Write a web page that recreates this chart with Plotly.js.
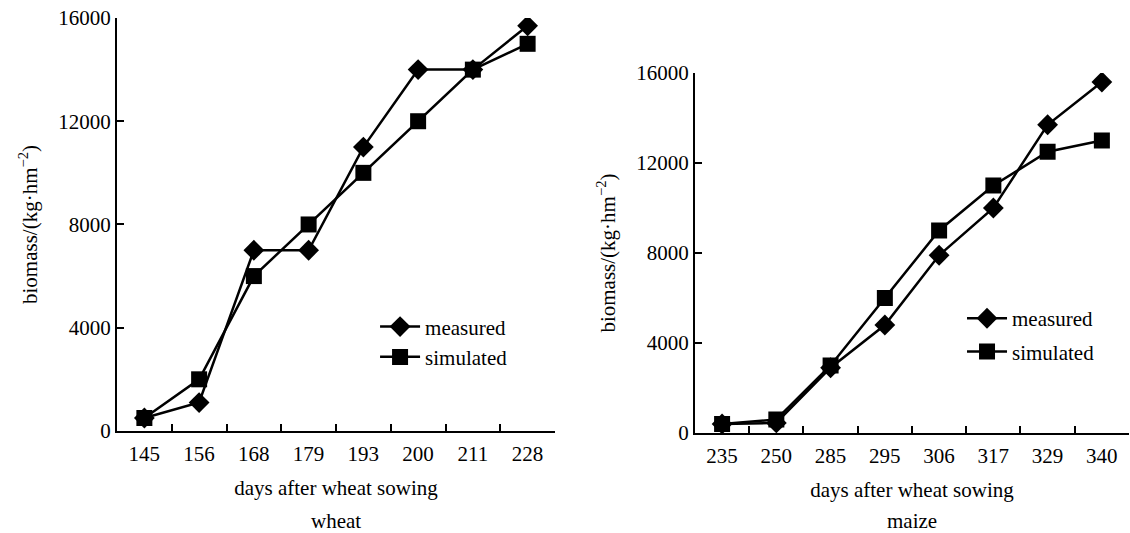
<!DOCTYPE html>
<html>
<head>
<meta charset="utf-8">
<script src="https://cdn.plot.ly/plotly-3.0.1.min.js"></script>
<style>html,body{margin:0;padding:0;background:#fff;}#chart{width:1130px;height:533px;}</style>
</head>
<body>
<div id="chart"></div>
<script>
// Wheat panel
const wheatDays = ["145", "156", "168", "179", "193", "200", "211", "228"];
const wheatMeasured = [500, 1100, 7000, 7000, 11000, 14000, 14000, 15700];
const wheatSimulated = [500, 2000, 6000, 8000, 10000, 12000, 14000, 15000];
// Maize panel
const maizeDays = ["235", "250", "285", "295", "306", "317", "329", "340"];
const maizeMeasured = [400, 450, 2900, 4800, 7900, 10000, 13700, 15600];
const maizeSimulated = [400, 600, 3000, 6000, 9000, 11000, 12500, 13000];
const yTicks = [0, 4000, 8000, 12000, 16000];

const FONT = "Liberation Serif, DejaVu Serif, serif";
const FS = 21;
const lineStyle = {color: "#000", width: 2.5};
const diamond = {symbol: "diamond", size: 16, color: "#000"};
const square = {symbol: "square", size: 16, color: "#000"};

const traces = [
  {x: wheatDays, y: wheatMeasured, name: "measured", type: "scatter", mode: "lines+markers",
   line: lineStyle, marker: diamond, xaxis: "x", yaxis: "y", legend: "legend", legendgroup: "w1"},
  {x: wheatDays, y: wheatSimulated, name: "simulated", type: "scatter", mode: "lines+markers",
   line: lineStyle, marker: square, xaxis: "x", yaxis: "y", legend: "legend", legendgroup: "w2"},
  {x: maizeDays, y: maizeMeasured, name: "measured", type: "scatter", mode: "lines+markers",
   line: lineStyle, marker: diamond, xaxis: "x2", yaxis: "y2", legend: "legend2", legendgroup: "m1"},
  {x: maizeDays, y: maizeSimulated, name: "simulated", type: "scatter", mode: "lines+markers",
   line: lineStyle, marker: square, xaxis: "x2", yaxis: "y2", legend: "legend2", legendgroup: "m2"}
];

function xAxis(domain, anchor) {
  return {
    domain: domain, anchor: anchor, type: "category",
    showline: true, linecolor: "#000", linewidth: 2,
    ticks: "inside", tickson: "boundaries", ticklen: 7, tickwidth: 2, tickcolor: "#000",
    ticklabelstandoff: 3,
    showgrid: false, zeroline: false, range: [-0.5, 7.5],
    tickfont: {family: FONT, size: FS, color: "#000"},
    title: {text: "days after wheat sowing", font: {family: FONT, size: FS, color: "#000"}, standoff: 15},
    fixedrange: true
  };
}
function yAxis(domain, anchor) {
  return {
    domain: domain, anchor: anchor, range: [0, 16000],
    tickvals: yTicks, ticktext: yTicks.map(String),
    showline: true, linecolor: "#000", linewidth: 2,
    ticks: "inside", ticklen: 7, tickwidth: 2, tickcolor: "#000",
    showgrid: false, zeroline: false,
    tickfont: {family: FONT, size: FS, color: "#000"},
    title: {text: "biomass/(kg·hm<sup>−2</sup>)", font: {family: FONT, size: FS, color: "#000"}, standoff: 15},
    fixedrange: true
  };
}

const legendBase = {
  font: {family: FONT, size: FS, color: "#000"},
  bgcolor: "rgba(0,0,0,0)", borderwidth: 0, xanchor: "left", yanchor: "top",
  itemwidth: 40
};

const layout = {
  width: 1130, height: 533,
  margin: {l: 117, r: 1, t: 18, b: 100},
  paper_bgcolor: "#fff", plot_bgcolor: "#fff",
  font: {family: FONT, size: FS, color: "#000"},
  xaxis: xAxis([0, 0.4328], "y"),
  yaxis: yAxis([0.005, 1], "x"),
  xaxis2: xAxis([0.5711, 1], "y2"),
  yaxis2: yAxis([0, 0.8675], "x2"),
  legend: Object.assign({}, legendBase, {x: 0.255, y: 0.305, tracegroupgap: 0}),
  legend2: Object.assign({}, legendBase, {x: 0.835, y: 0.325, tracegroupgap: 3}),
  annotations: [
    {text: "wheat", xref: "x domain", yref: "paper", x: 0.5, y: -0.212, xanchor: "center", yanchor: "middle",
     showarrow: false, font: {family: FONT, size: FS, color: "#000"}},
    {text: "maize", xref: "x2 domain", yref: "paper", x: 0.5, y: -0.212, xanchor: "center", yanchor: "middle",
     showarrow: false, font: {family: FONT, size: FS, color: "#000"}}
  ],
  showlegend: true
};

Plotly.newPlot("chart", traces, layout, {displayModeBar: false, staticPlot: true});
</script>
</body>
</html>
